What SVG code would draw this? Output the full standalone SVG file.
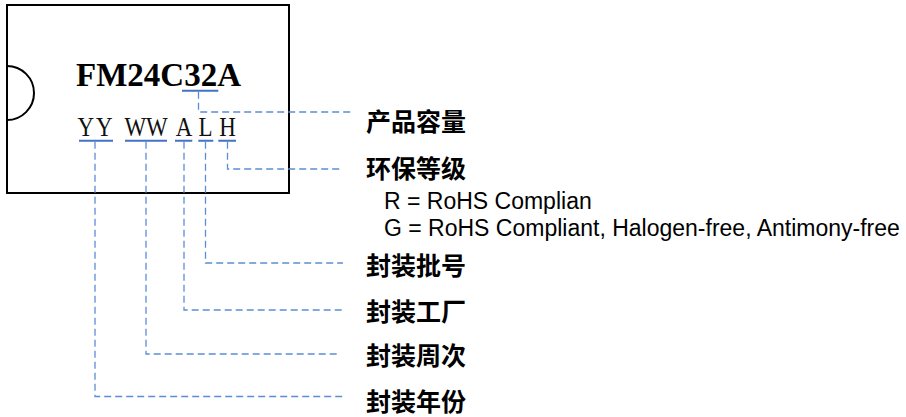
<svg xmlns="http://www.w3.org/2000/svg" width="906" height="417" viewBox="0 0 906 417">
<style>
.box{fill:none;stroke:#000;stroke-width:2}
.ul{stroke:#4472C4;stroke-width:2;fill:none}
.dash{stroke:#5B8DD6;stroke-width:1.3;stroke-dasharray:7 4;fill:none}
.lab{font-family:"Noto Sans CJK SC","Noto Sans",sans-serif;font-weight:bold;font-size:25px;fill:#000}
.note{font-family:"Liberation Sans",Arial,sans-serif;font-size:23px;fill:#000}
.part{font-family:"Liberation Serif","Times New Roman",serif;font-weight:bold;font-size:33px;fill:#000}
.code{font-family:"Liberation Serif","Times New Roman",serif;font-size:28px;fill:#111;text-anchor:middle}
</style>
<rect width="906" height="417" fill="#fff"/>
<g id="chip">
<rect class="box" x="7" y="5" width="282" height="188"/>
<path class="box" d="M7 66 A27 27 0 0 1 7 120"/>
<text class="part" x="76" y="86">FM24C32A</text>
<text class="code" y="136.5" transform="scale(0.82 1)"><tspan x="104.5">Y</tspan><tspan x="127.2">Y</tspan><tspan x="165">W</tspan><tspan x="191.3">W</tspan><tspan x="224.4">A</tspan><tspan x="250.6">L</tspan><tspan x="277.4">H</tspan></text>
<path class="ul" d="M182 90.7H218.3M79 140.7H113M125 140.7H167M175 140.7H192.3M198.3 140.7H213.3M218.3 140.7H236"/>
</g>
<g id="connectors">
<path class="dash" d="M198.5 91.7V112H352"/>
<path class="dash" d="M227.5 141.7V169H343"/>
<path class="dash" d="M205.5 141.7V263H343"/>
<path class="dash" d="M184 141.7V310H343"/>
<path class="dash" d="M146 141.7V354H338"/>
<path class="dash" d="M95 141.7V396.5H343"/>
</g>
<g id="capacity"><text class="lab" x="366" y="130.5">产品容量</text></g>
<g id="env"><text class="lab" x="366" y="177.5">环保等级</text>
<text class="note" x="384" y="208.5">R = RoHS Complian</text>
<text class="note" x="384" y="236">G = RoHS Compliant, Halogen-free, Antimony-free</text></g>
<g id="lot"><text class="lab" x="366" y="274.5">封装批号</text></g>
<g id="factory"><text class="lab" x="366" y="320.5">封装工厂</text></g>
<g id="week"><text class="lab" x="366" y="364.5">封装周次</text></g>
<g id="year"><text class="lab" x="366" y="410.5">封装年份</text></g>
</svg>
